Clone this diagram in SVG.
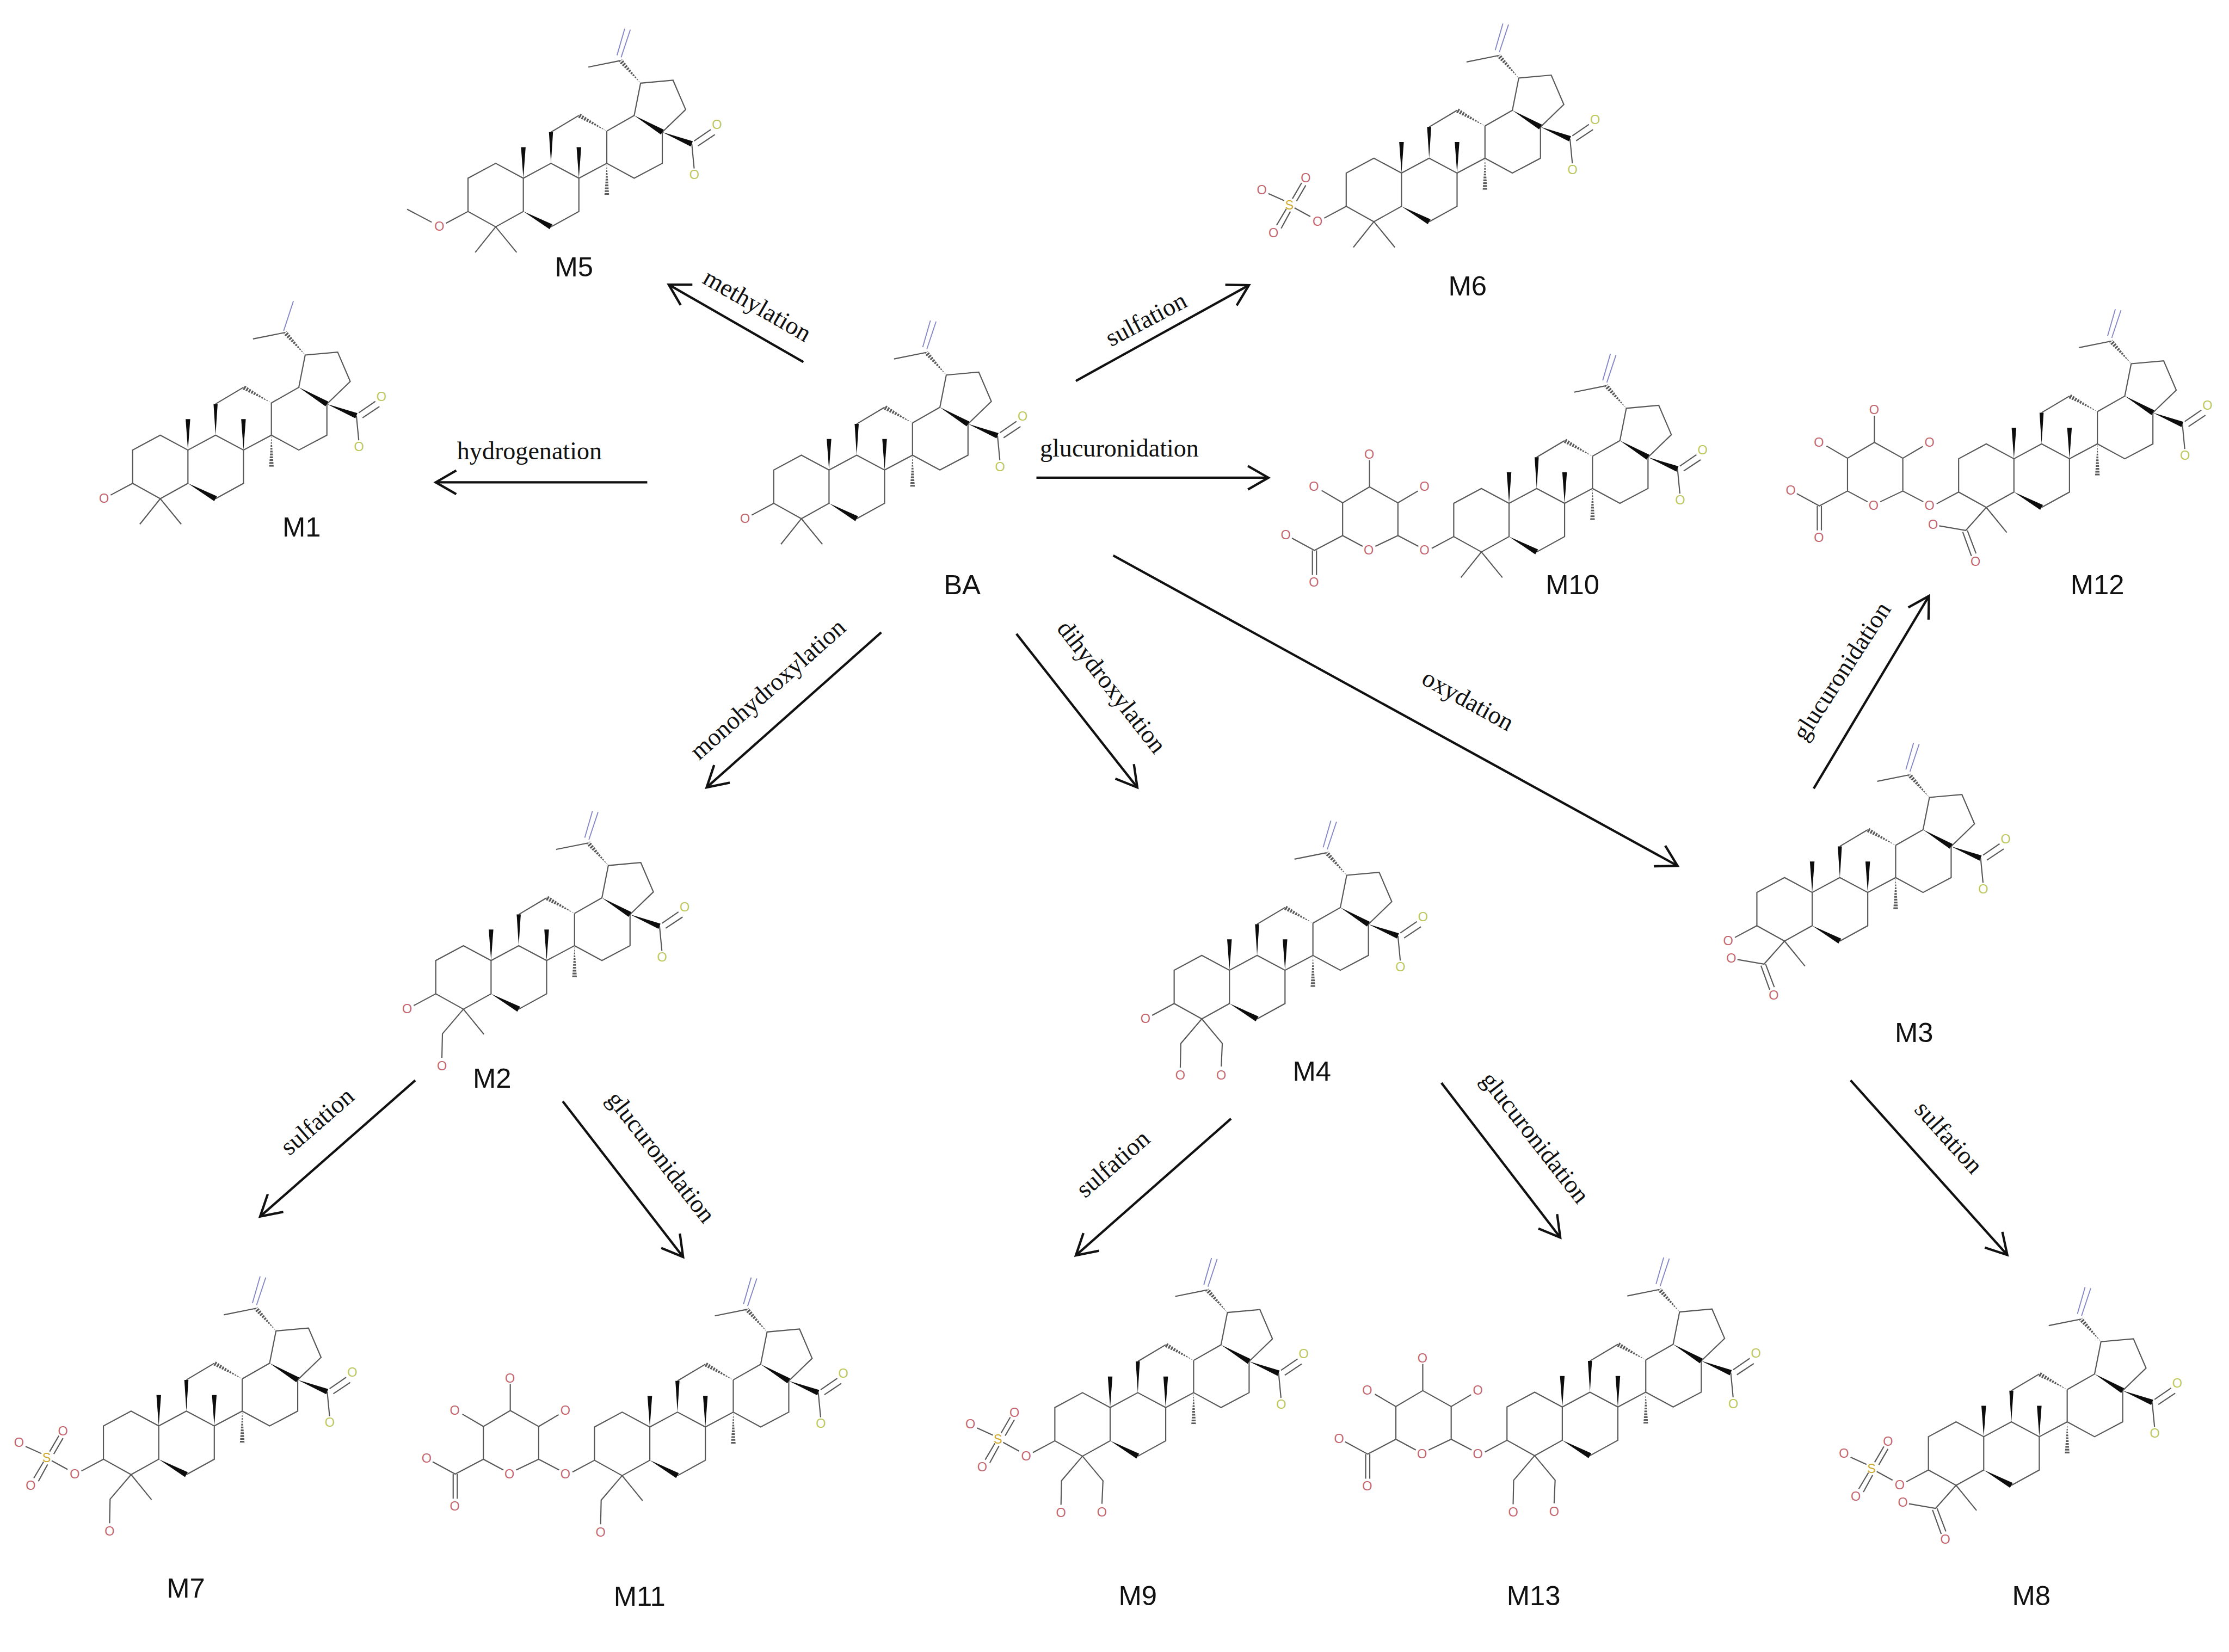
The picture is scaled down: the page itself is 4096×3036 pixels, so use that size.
<svg xmlns="http://www.w3.org/2000/svg" xmlns:xlink="http://www.w3.org/1999/xlink" width="4096" height="3036" viewBox="0 0 4096 3036">
<style>
.b{fill:none;stroke:#585858;stroke-width:2.3;stroke-linejoin:miter}
.w{fill:#0d0d0d}
.h{fill:#5a5a5a}
.hw{stroke:#fff;stroke-width:13;stroke-dasharray:2.2 3.4;fill:none}
.v{fill:none;stroke:#8487c6;stroke-width:2}
.o,.y,.s{font-family:"Liberation Sans",Arial,sans-serif;font-size:25px;text-anchor:middle}
.o{fill:#c4656f}
.y{fill:#bcc75a}
.s{fill:#cfa92a}
.n{font-family:"Liberation Sans",Arial,sans-serif;font-size:54px;text-anchor:middle;fill:#111}
.e{font-family:"Liberation Serif","Times New Roman",serif;font-size:49px;text-anchor:middle;fill:#111}
.a{fill:none;stroke:#111;stroke-width:4.6;marker-end:url(#open)}
</style>
<defs>
<marker id="open" markerUnits="userSpaceOnUse" viewBox="-46 -28 56 56" refX="0" refY="0" markerWidth="56" markerHeight="56" orient="auto" overflow="visible">
<path d="M-40 -23L0 0L-40 23" fill="none" stroke="#111" stroke-width="4.6"/>
</marker>
<g id="core">
<polygon class="h" points="163,-92 110.7,-126.4 106.3,-118.6"/>
<line class="hw" x1="163" y1="-92" x2="106" y2="-124"/>
<polygon class="h" points="163,-29 167.5,32.5 158.5,32.5"/>
<line class="hw" x1="163" y1="-29" x2="163" y2="36"/>
<polygon class="h" points="229,-185.6 193.1,-232.6 186.3,-226.6"/>
<line class="hw" x1="229" y1="-185.6" x2="187" y2="-233"/>
<path class="b" d="M0 0L-54 -29L-108 0L-108 65L-54 95L0 65ZM54 95L108.5 65L108.5 0L54 -29L0 0M108.5 0L163 -29L163 -92M163 -29L216.5 0L271.4 -29L271.4 -90M163 -92L216.5 -122.5L229 -185.6L292.4 -191.3L317 -134L271.4 -90M54 -90L108.5 -122.5M189.7 -229.6L127 -217M329 -67L333.6 -19M333.6 -72.7L366 -95M341 -63L374 -85"/>
<polygon class="w" points="0,65 56.7,90.2 51.3,99.8"/>
<polygon class="w" points="54,-29 58,-90 50,-90"/>
<polygon class="w" points="0,0 4.5,-60.5 -4.5,-60.5"/>
<polygon class="w" points="108.5,0 113,-60.5 104,-60.5"/>
<polygon class="w" points="216.5,-122.5 274.2,-94.7 268.6,-85.3"/>
<polygon class="w" points="271.4,-90 331,-72.1 327,-61.9"/>
</g>
<path id="vinyl" class="v" d="M183 -240L198 -292M191 -236L209 -290"/>
<path id="oh3" class="b" d="M-108 65L-151 88"/>
<path id="gem" class="b" d="M-94 145L-54 95L-13 145"/>
<path id="me" class="b" d="M-54 95L-14 144"/>
<path id="ch2a" class="b" d="M-54 95L-95 143L-96 190"/>
<path id="ch2b" class="b" d="M-54 95L-14 143L-16 188"/>
<path id="cooh" class="b" d="M-54 95L-94 140L-146 131M-100 143L-83 190M-91 140L-74 185"/>
<path id="sulf" class="b" d="M-178 85L-209 68M-229 54L-260 40M-213 50L-195 19M-205 55L-187 24M-225 70L-244 102M-217 75L-235 108"/>
<path id="gluc" class="b" d="M-177 84L-217 63L-217 -1L-272.5 -32L-325 -1L-325 63L-286 84M-261 84L-217 63M-217 -1L-178 -24M-272.5 -32L-272.5 -84M-325 -1L-366 -25M-325 63L-380 92L-424 68M-384 92L-384 140M-376 92L-376 140"/>
</defs>
<rect width="4096" height="3036" fill="#fff"/>
<g transform="scale(0.94096)">
<g id="connectors">
<path class="a" d="M1569 707L1306 556"/>
<path class="a" d="M1264 942L851 942"/>
<path class="a" d="M2101 744L2439 557"/>
<path class="a" d="M2024 933L2477 933"/>
<path class="a" d="M1721 1235L1380 1538"/>
<path class="a" d="M1985 1238L2221 1538"/>
<path class="a" d="M2174 1085L3276 1691"/>
<path class="a" d="M3542 1540L3767 1164"/>
<path class="a" d="M811 2110L508 2376"/>
<path class="a" d="M1099 2151L1334 2455"/>
<path class="a" d="M2404 2185L2101 2452"/>
<path class="a" d="M2815 2115L3047 2417"/>
<path class="a" d="M3614 2110L3920 2451"/>
</g>
<g id="edge-labels">
<text class="e" transform="translate(1477 600) rotate(30)" y="12">methylation</text>
<text class="e" x="1034" y="897">hydrogenation</text>
<text class="e" transform="translate(2240 627) rotate(-28)" y="12">sulfation</text>
<text class="e" x="2186" y="892">glucuronidation</text>
<text class="e" transform="translate(1502 1349) rotate(-41.5)" y="12">monohydroxylation</text>
<text class="e" transform="translate(2168 1344) rotate(52)" y="12">dihydroxylation</text>
<text class="e" transform="translate(2865 1371) rotate(29)" y="12">oxydation</text>
<text class="e" transform="translate(3600 1313) rotate(-57)" y="12">glucuronidation</text>
<text class="e" transform="translate(622 2193) rotate(-41)" y="12">sulfation</text>
<text class="e" transform="translate(1288 2262) rotate(52)" y="12">glucuronidation</text>
<text class="e" transform="translate(2176 2276) rotate(-41)" y="12">sulfation</text>
<text class="e" transform="translate(2995 2224) rotate(52)" y="12">glucuronidation</text>
<text class="e" transform="translate(3803 2224) rotate(48)" y="12">sulfation</text>
</g>
<g id="BA"><g transform="translate(1619 918)"><use href="#core"/><use href="#vinyl"/><use href="#oh3"/><use href="#gem"/>
<text class="o" x="-164" y="103">O</text><text class="y" x="378" y="-96">O</text><text class="y" x="334" y="2">O</text></g>
<text class="n" x="1879" y="1161">BA</text></g>
<g id="M1"><g transform="translate(367 879)"><use href="#core"/><path class="v" d="M187 -233L206 -291"/><use href="#oh3"/><use href="#gem"/>
<text class="o" x="-164" y="103">O</text><text class="y" x="378" y="-96">O</text><text class="y" x="334" y="2">O</text></g>
<text class="n" x="589" y="1048">M1</text></g>
<g id="M5"><g transform="translate(1022 348)"><use href="#core"/><use href="#vinyl"/><use href="#oh3"/><use href="#gem"/><path class="b" d="M-179 86L-227 60.6"/>
<text class="o" x="-164" y="103">O</text><text class="y" x="378" y="-96">O</text><text class="y" x="334" y="2">O</text></g>
<text class="n" x="1121" y="540">M5</text></g>
<g id="M6"><g transform="translate(2737 338)"><use href="#core"/><use href="#vinyl"/><use href="#oh3"/><use href="#gem"/><use href="#sulf"/>
<text class="o" x="-164" y="103">O</text><text class="s" x="-219" y="71">S</text><text class="o" x="-273" y="41">O</text><text class="o" x="-187" y="18">O</text><text class="o" x="-250" y="125">O</text><text class="y" x="378" y="-96">O</text><text class="y" x="334" y="2">O</text></g>
<text class="n" x="2866" y="577">M6</text></g>
<g id="M10"><g transform="translate(2947 983)"><use href="#core"/><use href="#vinyl"/><use href="#oh3"/><use href="#gem"/><use href="#gluc"/>
<text class="o" x="-165" y="100">O</text><text class="o" x="-274" y="100">O</text><text class="o" x="-165" y="-24">O</text><text class="o" x="-273" y="-87">O</text><text class="o" x="-381" y="-24">O</text><text class="o" x="-436" y="70">O</text><text class="o" x="-381" y="163">O</text><text class="y" x="378" y="-96">O</text><text class="y" x="334" y="2">O</text></g>
<text class="n" x="3071" y="1161">M10</text></g>
<g id="M12"><g transform="translate(3933 896)"><use href="#core"/><use href="#vinyl"/><use href="#oh3"/><use href="#me"/><use href="#cooh"/><use href="#gluc"/>
<text class="o" x="-165" y="100">O</text><text class="o" x="-274" y="100">O</text><text class="o" x="-165" y="-24">O</text><text class="o" x="-273" y="-87">O</text><text class="o" x="-381" y="-24">O</text><text class="o" x="-436" y="70">O</text><text class="o" x="-381" y="163">O</text><text class="o" x="-158" y="137">O</text><text class="o" x="-75" y="209">O</text><text class="y" x="378" y="-96">O</text><text class="y" x="334" y="2">O</text></g>
<text class="n" x="4096" y="1161">M12</text></g>
<g id="M2"><g transform="translate(959 1876)"><use href="#core"/><use href="#vinyl"/><use href="#oh3"/><use href="#me"/><use href="#ch2a"/>
<text class="o" x="-164" y="103">O</text><text class="o" x="-96" y="214">O</text><text class="y" x="378" y="-96">O</text><text class="y" x="334" y="2">O</text></g>
<text class="n" x="961" y="2124">M2</text></g>
<g id="M4"><g transform="translate(2401 1895)"><use href="#core"/><use href="#vinyl"/><use href="#oh3"/><use href="#ch2a"/><use href="#ch2b"/>
<text class="o" x="-164" y="103">O</text><text class="o" x="-96" y="214">O</text><text class="o" x="-16" y="213">O</text><text class="y" x="378" y="-96">O</text><text class="y" x="334" y="2">O</text></g>
<text class="n" x="2562" y="2111">M4</text></g>
<g id="M3"><g transform="translate(3539 1743)"><use href="#core"/><use href="#vinyl"/><use href="#oh3"/><use href="#me"/><use href="#cooh"/>
<text class="o" x="-164" y="103">O</text><text class="o" x="-158" y="137">O</text><text class="o" x="-75" y="209">O</text><text class="y" x="378" y="-96">O</text><text class="y" x="334" y="2">O</text></g>
<text class="n" x="3738" y="2035">M3</text></g>
<g id="M7"><g transform="translate(310 2785)"><use href="#core"/><use href="#vinyl"/><use href="#oh3"/><use href="#me"/><use href="#ch2a"/><use href="#sulf"/>
<text class="o" x="-164" y="103">O</text><text class="s" x="-219" y="71">S</text><text class="o" x="-273" y="41">O</text><text class="o" x="-187" y="18">O</text><text class="o" x="-250" y="125">O</text><text class="o" x="-96" y="214">O</text><text class="y" x="378" y="-96">O</text><text class="y" x="334" y="2">O</text></g>
<text class="n" x="363" y="3120">M7</text></g>
<g id="M11"><g transform="translate(1269 2787)"><use href="#core"/><use href="#vinyl"/><use href="#oh3"/><use href="#me"/><use href="#ch2a"/><use href="#gluc"/>
<text class="o" x="-165" y="100">O</text><text class="o" x="-274" y="100">O</text><text class="o" x="-165" y="-24">O</text><text class="o" x="-273" y="-87">O</text><text class="o" x="-381" y="-24">O</text><text class="o" x="-436" y="70">O</text><text class="o" x="-381" y="163">O</text><text class="o" x="-96" y="214">O</text><text class="y" x="378" y="-96">O</text><text class="y" x="334" y="2">O</text></g>
<text class="n" x="1249" y="3136">M11</text></g>
<g id="M9"><g transform="translate(2168 2749)"><use href="#core"/><use href="#vinyl"/><use href="#oh3"/><use href="#ch2a"/><use href="#ch2b"/><use href="#sulf"/>
<text class="o" x="-164" y="103">O</text><text class="s" x="-219" y="71">S</text><text class="o" x="-273" y="41">O</text><text class="o" x="-187" y="18">O</text><text class="o" x="-250" y="125">O</text><text class="o" x="-96" y="214">O</text><text class="o" x="-16" y="213">O</text><text class="y" x="378" y="-96">O</text><text class="y" x="334" y="2">O</text></g>
<text class="n" x="2222" y="3135">M9</text></g>
<g id="M13"><g transform="translate(3051 2748)"><use href="#core"/><use href="#vinyl"/><use href="#oh3"/><use href="#ch2a"/><use href="#ch2b"/><use href="#gluc"/>
<text class="o" x="-165" y="100">O</text><text class="o" x="-274" y="100">O</text><text class="o" x="-165" y="-24">O</text><text class="o" x="-273" y="-87">O</text><text class="o" x="-381" y="-24">O</text><text class="o" x="-436" y="70">O</text><text class="o" x="-381" y="163">O</text><text class="o" x="-96" y="214">O</text><text class="o" x="-16" y="213">O</text><text class="y" x="378" y="-96">O</text><text class="y" x="334" y="2">O</text></g>
<text class="n" x="2995" y="3135">M13</text></g>
<g id="M8"><g transform="translate(3874 2806)"><use href="#core"/><use href="#vinyl"/><use href="#oh3"/><use href="#me"/><use href="#cooh"/><use href="#sulf"/>
<text class="o" x="-164" y="103">O</text><text class="s" x="-219" y="71">S</text><text class="o" x="-273" y="41">O</text><text class="o" x="-187" y="18">O</text><text class="o" x="-250" y="125">O</text><text class="o" x="-158" y="137">O</text><text class="o" x="-75" y="209">O</text><text class="y" x="378" y="-96">O</text><text class="y" x="334" y="2">O</text></g>
<text class="n" x="3967" y="3135">M8</text></g>
</g>
</svg>
